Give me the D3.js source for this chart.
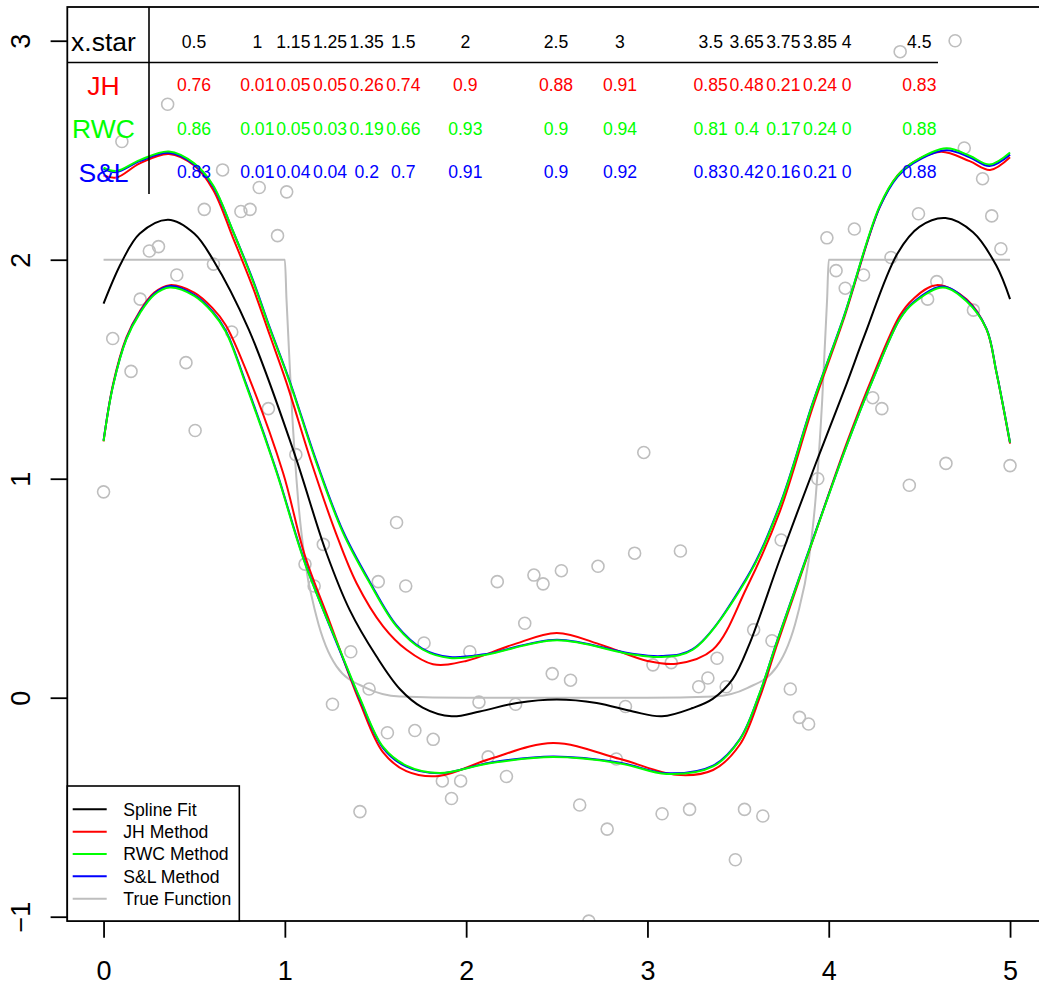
<!DOCTYPE html>
<html>
<head>
<meta charset="utf-8">
<script src="https://cdn.jsdelivr.net/npm/d3@7"></script>
<style>
  body { margin: 0; background: #fff; }
  svg text { font-family: "Liberation Sans", Arial, Helvetica, sans-serif; }
</style>
</head>
<body>
<div id="divChart"></div>
<script>
// ---- data ----
const xTicks = [0, 1, 2, 3, 4, 5];
const yTicks = [-1, 0, 1, 2, 3];

// noisy observations, 100 points on an even grid from 0 to 5
const obsX = d3.range(100).map(i => i * 5 / 99);
const obsY = [
  0.94, 1.64, 2.54, 1.49, 1.82, 2.04, 2.06, 2.71, 1.93, 1.53,
  1.22, 2.23, 1.98, 2.41, 1.67, 2.22, 2.23, 2.33, 1.32, 2.11,
  2.31, 1.11, 0.61, 0.51, 0.70, -0.03, -1.05, 0.21, -0.52, 0.04,
  0.53, -0.16, 0.80, 0.51, -0.15, 0.25, -0.19, -0.38, -0.46, -0.38,
  0.21, -0.02, -0.27, 0.53, -0.36, -0.03, 0.34, 0.56, 0.52, 0.11,
  0.58, 0.08, -0.49, -1.02, 0.60, -0.60, -0.28, -0.04, 0.66, 1.12,
  0.15, -0.53, 0.16, 0.67, -0.51, 0.05, 0.09, 0.18, 0.05, -0.74,
  -0.51, 0.31, -0.54, 0.26, 0.72, 0.04, -0.09, -0.12, 1.00, 2.10,
  1.95, 1.87, 2.14, 1.93, 1.37, 1.32, 2.01, 2.95, 0.97, 2.21,
  1.82, 1.90, 1.07, 3.00, 2.51, 1.77, 2.37, 2.20, 2.05, 1.06
];

const splineFit = [[0,1.80],[0.1,1.99],[0.2,2.12],[0.356,2.183],[0.5,2.12],[0.604,2.0],[0.8,1.683],
  [1.045,1.134],[1.229,0.662],[1.358,0.40],[1.505,0.189],[1.634,0.04],[1.76,-0.045],[1.92,-0.085],
  [2.075,-0.063],[2.28,-0.024],[2.5,-0.008],[2.72,-0.024],[2.92,-0.063],[3.08,-0.085],[3.25,-0.047],
  [3.36,-0.005],[3.47,0.085],[3.56,0.24],[3.73,0.631],[3.93,1.073],[4.097,1.43],[4.2,1.66],
  [4.38,2.03],[4.5,2.15],[4.644,2.19],[4.796,2.125],[4.925,1.972],[5,1.82]];

const jhUpper = [[0,2.385],[0.07,2.375],[0.2,2.44],[0.36,2.483],[0.5,2.43],[0.604,2.32],[0.714,2.10],
  [0.825,1.87],[0.917,1.655],[1.009,1.439],[1.147,1.073],[1.281,0.753],[1.395,0.524],[1.542,0.326],
  [1.671,0.219],[1.817,0.153],[2.0,0.168],[2.25,0.24],[2.5,0.296],[2.75,0.24],[3.0,0.168],[3.16,0.155],
  [3.36,0.219],[3.546,0.50],[3.73,0.85],[3.913,1.33],[4.079,1.72],[4.281,2.24],[4.38,2.385],
  [4.465,2.445],[4.62,2.493],[4.777,2.45],[4.89,2.41],[5,2.468]];
const jhLower = [[0,1.17],[0.052,1.43],[0.126,1.645],[0.2,1.765],[0.28,1.85],[0.365,1.884],[0.5,1.85],
  [0.6,1.78],[0.675,1.70],[0.806,1.454],[0.99,1.027],[1.11,0.65],[1.25,0.34],[1.413,-0.02],
  [1.542,-0.25],[1.67,-0.335],[1.85,-0.357],[2.13,-0.28],[2.48,-0.207],[2.85,-0.28],[3.16,-0.352],
  [3.362,-0.33],[3.509,-0.215],[3.619,0.0],[3.712,0.235],[3.913,0.72],[4.098,1.16],[4.244,1.47],
  [4.392,1.745],[4.465,1.82],[4.594,1.884],[4.76,1.82],[4.87,1.683],[4.925,1.485],[5,1.16]];

const rwcUpper = [[0,2.42],[0.07,2.405],[0.2,2.455],[0.36,2.494],[0.5,2.44],[0.604,2.34],[0.714,2.13],
  [0.825,1.90],[0.917,1.685],[1.027,1.44],[1.174,1.073],[1.321,0.753],[1.468,0.524],[1.616,0.326],
  [1.762,0.219],[1.91,0.181],[2.1,0.195],[2.5,0.262],[2.9,0.2],[3.077,0.186],[3.25,0.219],[3.546,0.54],
  [3.73,0.875],[3.913,1.347],[4.079,1.728],[4.281,2.246],[4.38,2.385],[4.465,2.445],[4.649,2.509],
  [4.777,2.475],[4.887,2.435],[5,2.49]];
const rwcLower = [[0,1.172],[0.052,1.423],[0.126,1.637],[0.2,1.755],[0.28,1.84],[0.365,1.873],[0.5,1.835],
  [0.6,1.76],[0.675,1.67],[0.788,1.423],[0.954,1.03],[1.11,0.616],[1.303,0.22],[1.413,0.0],
  [1.542,-0.225],[1.67,-0.31],[1.854,-0.344],[2.13,-0.299],[2.479,-0.271],[2.85,-0.3],[3.105,-0.348],
  [3.362,-0.314],[3.509,-0.192],[3.619,0.021],[3.712,0.25],[3.913,0.722],[4.098,1.149],[4.244,1.454],
  [4.392,1.728],[4.465,1.80],[4.63,1.873],[4.76,1.81],[4.87,1.683],[4.925,1.485],[5,1.165]];

const slUpper = [[0,2.415],[0.07,2.40],[0.2,2.45],[0.36,2.488],[0.5,2.435],[0.604,2.335],[0.714,2.13],
  [0.825,1.905],[0.917,1.69],[1.027,1.445],[1.174,1.08],[1.321,0.76],[1.468,0.53],[1.616,0.33],
  [1.762,0.222],[1.91,0.186],[2.1,0.198],[2.5,0.265],[2.9,0.203],[3.077,0.19],[3.25,0.222],[3.546,0.545],
  [3.73,0.88],[3.913,1.35],[4.079,1.73],[4.281,2.24],[4.38,2.38],[4.465,2.44],[4.649,2.50],
  [4.777,2.468],[4.887,2.428],[5,2.48]];
const slLower = [[0,1.175],[0.052,1.425],[0.126,1.64],[0.2,1.76],[0.28,1.845],[0.365,1.88],[0.5,1.84],
  [0.6,1.765],[0.675,1.675],[0.788,1.43],[0.954,1.035],[1.11,0.62],[1.303,0.215],[1.413,-0.005],
  [1.542,-0.23],[1.67,-0.315],[1.854,-0.345],[2.13,-0.297],[2.479,-0.268],[2.85,-0.297],[3.105,-0.345],
  [3.362,-0.31],[3.509,-0.19],[3.619,0.02],[3.712,0.252],[3.913,0.725],[4.098,1.15],[4.244,1.455],
  [4.392,1.73],[4.465,1.805],[4.63,1.878],[4.76,1.815],[4.87,1.685],[4.925,1.487],[5,1.165]];

const trueFn = [[0,2],[1,2],[1.009,1.82],[1.036,1.36],[1.073,0.905],[1.11,0.63],[1.174,0.372],
  [1.285,0.143],[1.45,0.044],[1.634,0.006],[2,0],[3,0],[3.366,0.006],[3.55,0.044],[3.715,0.143],
  [3.826,0.372],[3.89,0.63],[3.927,0.905],[3.964,1.36],[3.991,1.82],[4,2],[5,2]];

// coverage table
const xStar = [0.5, 1, 1.15, 1.25, 1.35, 1.5, 2, 2.5, 3, 3.5, 3.65, 3.75, 3.85, 4, 4.5];
const coverJH  = [0.76, 0.01, 0.05, 0.05, 0.26, 0.74, 0.9, 0.88, 0.91, 0.85, 0.48, 0.21, 0.24, 0, 0.83];
const coverRWC = [0.86, 0.01, 0.05, 0.03, 0.19, 0.66, 0.93, 0.9, 0.94, 0.81, 0.4, 0.17, 0.24, 0, 0.88];
const coverSL  = [0.83, 0.01, 0.04, 0.04, 0.2, 0.7, 0.91, 0.9, 0.92, 0.83, 0.42, 0.16, 0.21, 0, 0.88];

const legendLabels = ['Spline Fit', 'JH Method', 'RWC Method', 'S&L Method', 'True Function'];

// ---- layout ----
const width = 1039, height = 986;
const plot = { left: 67.3, right: 1046.3, top: 7, bottom: 921 };
const colors = { fit: '#000000', jh: '#FF0000', rwc: '#00FF00', sl: '#0000FF', truth: '#BEBEBE' };
const tableColX = [194, 257.3, 293.3, 330, 366.7, 403.3, 465.3, 556, 620, 710.7, 746.7, 783.3, 820, 846.7, 919.3];
const tableRowY = [41.5, 85, 128.7, 172];
const smallFont = 17.6, bigFont = 26.5;

const svg = d3.select('#divChart')
  .append('svg')
  .attr('width', width)
  .attr('height', height);

const xScale = d3.scaleLinear().domain([-0.2, 5.2]).range([plot.left, plot.right]);
const yScale = d3.scaleLinear().domain([-1.0196, 3.154]).range([plot.bottom, plot.top]);

svg.append('clipPath').attr('id', 'plotClip')
  .append('rect')
  .attr('x', plot.left).attr('y', plot.top)
  .attr('width', plot.right - plot.left).attr('height', plot.bottom - plot.top);

const inner = svg.append('g').attr('clip-path', 'url(#plotClip)');

// observations
inner.append('g')
  .selectAll('circle')
  .data(obsY)
  .enter()
  .append('circle')
  .attr('cx', (d, i) => xScale(obsX[i]))
  .attr('cy', d => yScale(d))
  .attr('r', 6)
  .attr('fill', 'none')
  .attr('stroke', colors.truth)
  .attr('stroke-width', 1.6);

// coverage table
const table = svg.append('g');
table.append('line')
  .attr('x1', 149).attr('x2', 149).attr('y1', plot.top).attr('y2', 194)
  .attr('stroke', '#000').attr('stroke-width', 1.6);
table.append('line')
  .attr('x1', plot.left).attr('x2', 938).attr('y1', 62.5).attr('y2', 62.5)
  .attr('stroke', '#000').attr('stroke-width', 1.6);

const tableRows = [
  { name: 'x.star', values: xStar, color: '#000' },
  { name: 'JH', values: coverJH, color: colors.jh },
  { name: 'RWC', values: coverRWC, color: colors.rwc },
  { name: 'S&L', values: coverSL, color: colors.sl }
];
tableRows.forEach((row, r) => {
  table.append('text')
    .attr('x', 103.5)
    .attr('y', tableRowY[r] + 0.36 * bigFont)
    .attr('text-anchor', 'middle')
    .attr('font-size', bigFont)
    .attr('fill', row.color)
    .text(row.name);
  table.selectAll(null)
    .data(row.values)
    .enter()
    .append('text')
    .attr('x', (d, i) => tableColX[i])
    .attr('y', tableRowY[r] + 0.36 * smallFont)
    .attr('text-anchor', 'middle')
    .attr('font-size', smallFont)
    .attr('fill', row.color)
    .text(d => String(d));
});

// curves: smooth fits through the read points, the step function kept monotone
const smooth = d3.line()
  .x(d => xScale(d[0]))
  .y(d => yScale(d[1]))
  .curve(d3.curveCatmullRom.alpha(0.5));
const stepLine = d3.line()
  .x(d => xScale(d[0]))
  .y(d => yScale(d[1]))
  .curve(d3.curveMonotoneX);

const curves = [
  { data: trueFn, color: colors.truth, gen: stepLine },
  { data: splineFit, color: colors.fit, gen: smooth },
  { data: jhUpper, color: colors.jh, gen: smooth },
  { data: jhLower, color: colors.jh, gen: smooth },
  { data: slUpper, color: colors.sl, gen: smooth },
  { data: slLower, color: colors.sl, gen: smooth },
  { data: rwcUpper, color: colors.rwc, gen: smooth },
  { data: rwcLower, color: colors.rwc, gen: smooth }
];
inner.append('g')
  .selectAll('path')
  .data(curves)
  .enter()
  .append('path')
  .attr('d', d => d.gen(d.data))
  .attr('fill', 'none')
  .attr('stroke', d => d.color)
  .attr('stroke-width', 2);

// axes
const xAxis = svg.append('g')
  .attr('transform', `translate(0, ${plot.bottom})`)
  .call(d3.axisBottom(xScale).tickValues(xTicks).tickSize(16.7).tickPadding(23).tickFormat(d3.format('d')));
xAxis.select('.domain').remove();
xAxis.selectAll('line').attr('stroke-width', 1.8);
xAxis.selectAll('text').attr('font-size', 27).attr('font-family', null).attr('fill', '#000');

const yAxis = svg.append('g')
  .attr('transform', `translate(${plot.left}, 0)`)
  .call(d3.axisLeft(yScale).tickValues(yTicks).tickSize(16.7).tickFormat(d3.format('d')));
yAxis.select('.domain').remove();
yAxis.selectAll('line').attr('stroke-width', 1.8);
yAxis.selectAll('text')
  .attr('font-size', 27)
  .attr('font-family', null)
  .attr('fill', '#000')
  .attr('x', null)
  .attr('dy', null)
  .attr('text-anchor', 'middle')
  .attr('transform', `translate(${30 - plot.left}, 0) rotate(-90)`);

// plot box
svg.append('rect')
  .attr('x', plot.left).attr('y', plot.top)
  .attr('width', plot.right - plot.left).attr('height', plot.bottom - plot.top)
  .attr('fill', 'none')
  .attr('stroke', '#000')
  .attr('stroke-width', 1.8);

// legend
const legendColors = [colors.fit, colors.jh, colors.rwc, colors.sl, colors.truth];
const legend = svg.append('g');
legend.append('rect')
  .attr('x', plot.left).attr('y', 786)
  .attr('width', 172).attr('height', plot.bottom - 786)
  .attr('fill', '#fff').attr('stroke', '#000').attr('stroke-width', 1.6);
const items = legend.selectAll('g.item')
  .data(legendLabels)
  .enter()
  .append('g')
  .attr('class', 'item')
  .attr('transform', (d, i) => `translate(0, ${809.3 + i * 22.35})`);
items.append('line')
  .attr('x1', 72.7).attr('x2', 106.7)
  .attr('stroke', (d, i) => legendColors[i])
  .attr('stroke-width', 2);
items.append('text')
  .attr('x', 123.3)
  .attr('y', 0.36 * smallFont)
  .attr('font-size', smallFont)
  .text(d => d);
</script>
</body>
</html>
